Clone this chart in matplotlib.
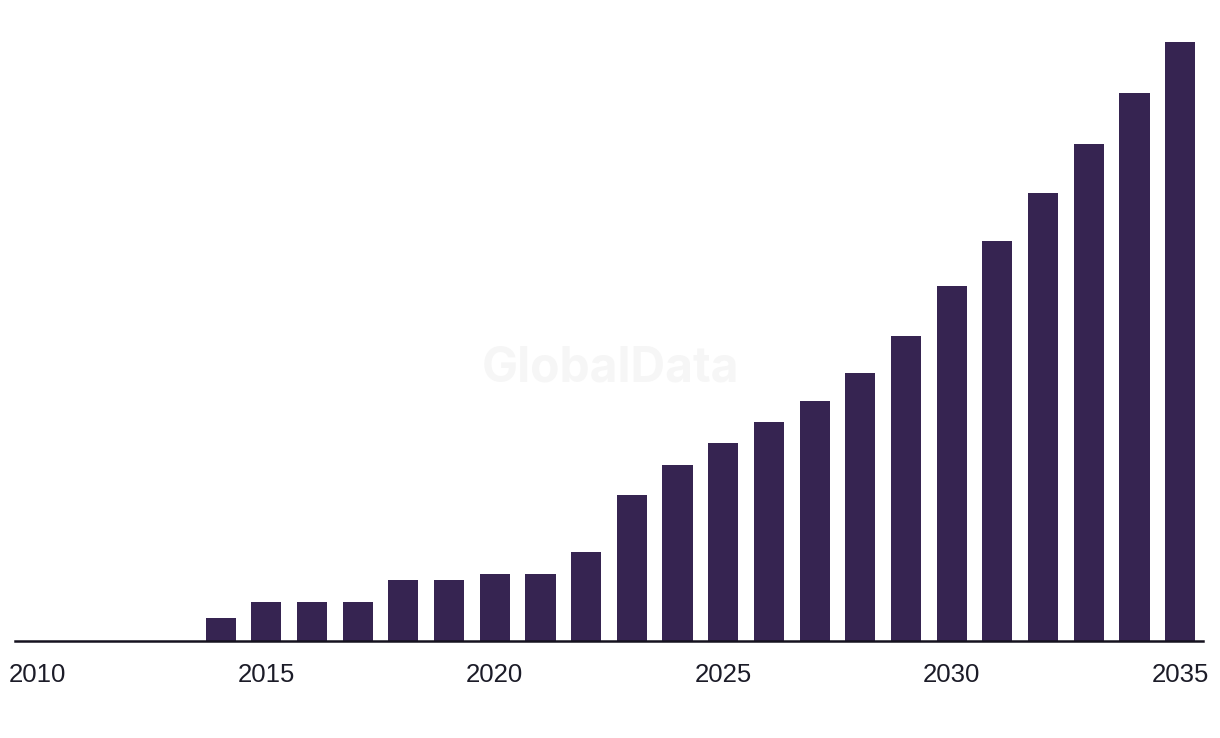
import numpy as np
import matplotlib
matplotlib.use("Agg")
import matplotlib.pyplot as plt

years = list(range(2010, 2036))
values = [0, 0, 0, 0, 23, 39, 39, 39, 61, 61, 67, 67, 89, 146,
          176, 198, 219, 240, 268, 305, 355, 400, 448, 497, 548, 599]
tick_years = [2010, 2015, 2020, 2025, 2030, 2035]

bar_color = "#362451"

fig = plt.figure(figsize=(12.2, 7.38), dpi=100)
ax = fig.add_axes([15 / 1220, 97 / 738, 1188 / 1220, 599 / 738])

x = np.arange(len(years))
ax.bar(x, values, width=0.66, color=bar_color, zorder=2)

ax.set_xlim(-0.5, len(years) - 0.5)
ax.set_ylim(0, max(values))
ax.set_xticks([years.index(y) for y in tick_years])
ax.set_xticklabels([str(y) for y in tick_years], fontsize=18.5,
                   family="Liberation Sans", color="#1c1c28")
ax.tick_params(axis="x", length=0, pad=16)
ax.set_yticks([])
for s in ["top", "right", "left"]:
    ax.spines[s].set_visible(False)
ax.spines["bottom"].set_color("#15121f")
ax.spines["bottom"].set_linewidth(1.8)

fig.text(611 / 1220, 1 - 369 / 738, "GlobalData", ha="center", va="center",
         fontsize=34.5, fontweight="bold", family="Inter", color="#f6f6f6",
         zorder=0)

fig.savefig("out.png", dpi=100)
